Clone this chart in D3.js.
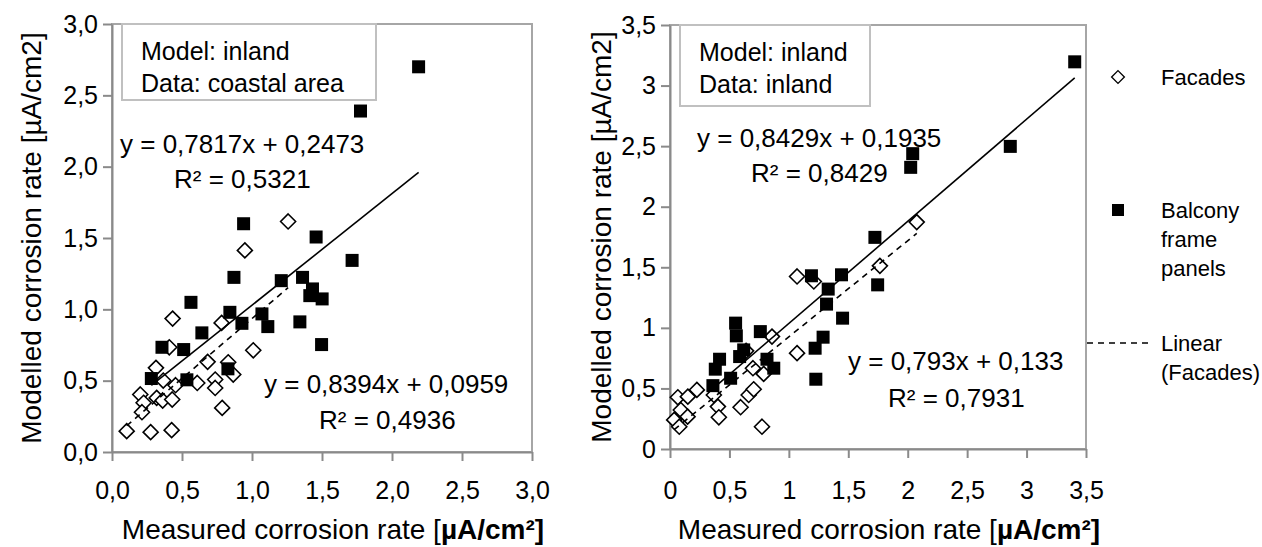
<!DOCTYPE html>
<html lang="en">
<head>
<meta charset="UTF-8">
<title>Modelled vs measured corrosion rate</title>
<script src="https://d3js.org/d3.v7.min.js"></script>
<style>
  body { margin: 0; background: #fff; }
  svg text { font-family: "Liberation Sans", Arial, sans-serif; fill: #000; }
</style>
</head>
<body>
<div id="chart"></div>
<script>
// ---- data ----
// left: model inland, data coastal area
const leftBalconyX = [2.19, 1.775, 0.94, 1.458, 1.715, 0.871, 1.209, 1.361, 1.432, 1.413, 1.501, 0.564,
  0.842, 1.071, 0.928, 1.113, 1.342, 0.642, 1.497, 0.357, 0.512, 0.828, 0.281, 0.535];
const leftBalconyY = [2.70, 2.39, 1.60, 1.507, 1.343, 1.224, 1.201, 1.224, 1.143, 1.096, 1.073, 1.049,
  0.979, 0.968, 0.902, 0.879, 0.912, 0.835, 0.753, 0.734, 0.718, 0.583, 0.515, 0.506];
const leftFacadesX = [1.258, 0.949, 0.433, 0.783, 0.409, 1.009, 0.683, 0.830, 0.314, 0.866, 0.366, 0.454,
  0.609, 0.737, 0.737, 0.202, 0.319, 0.362, 0.430, 0.226, 0.214, 0.787, 0.105, 0.276, 0.426];
const leftFacadesY = [1.616, 1.413, 0.935, 0.905, 0.734, 0.713, 0.632, 0.629, 0.590, 0.543, 0.501, 0.468,
  0.484, 0.508, 0.449, 0.403, 0.379, 0.361, 0.368, 0.345, 0.279, 0.309, 0.146, 0.139, 0.153];
const leftBalconyFit = [0.7817, 0.2473];
const leftFacadesFit = [0.8394, 0.0959];
const leftEquations = ["y = 0,7817x + 0,2473", "R² = 0,5321", "y = 0,8394x + 0,0959", "R² = 0,4936"];
const leftBox = ["Model: inland", "Data: coastal area"];
const leftTicks = [0, 0.5, 1, 1.5, 2, 2.5, 3];
const leftTickLabels = ["0,0", "0,5", "1,0", "1,5", "2,0", "2,5", "3,0"];

// right: model inland, data inland
const rightBalconyX = [3.405, 2.863, 2.042, 2.025, 1.724, 1.19, 1.443, 1.331, 1.747, 1.317, 1.452, 0.552,
  0.558, 0.76, 1.288, 1.221, 0.62, 0.586, 0.417, 0.816, 0.873, 0.381, 0.51, 0.361, 1.227];
const rightBalconyY = [3.196, 2.498, 2.438, 2.325, 1.747, 1.43, 1.438, 1.32, 1.355, 1.196, 1.08, 1.039,
  0.934, 0.969, 0.923, 0.832, 0.818, 0.763, 0.741, 0.741, 0.667, 0.659, 0.584, 0.523, 0.576];
const rightFacadesX = [2.076, 1.766, 1.069, 1.21, 0.858, 1.069, 0.64, 0.698, 0.788, 0.662, 0.704, 0.594,
  0.403, 0.411, 0.369, 0.774, 0.226, 0.066, 0.15, 0.091, 0.148, 0.035, 0.078];
const rightFacadesY = [1.873, 1.512, 1.424, 1.383, 0.928, 0.791, 0.81, 0.667, 0.62, 0.446, 0.493, 0.345,
  0.35, 0.262, 0.446, 0.184, 0.488, 0.427, 0.432, 0.322, 0.267, 0.24, 0.184];
const rightBalconyFit = [0.8429, 0.1935];
const rightFacadesFit = [0.793, 0.133];
const rightEquations = ["y = 0,8429x + 0,1935", "R² = 0,8429", "y = 0,793x + 0,133", "R² = 0,7931"];
const rightBox = ["Model: inland", "Data: inland"];
const rightTicks = [0, 0.5, 1, 1.5, 2, 2.5, 3, 3.5];
const rightTickLabels = ["0", "0,5", "1", "1,5", "2", "2,5", "3", "3,5"];

const legendLabels = [["Facades"], ["Balcony", "frame", "panels"], ["Linear", "(Facades)"]];

const W = 1262, H = 547;
const svg = d3.select("#chart").append("svg").attr("width", W).attr("height", H);

const axisColor = "#8a8a8a";
const diamond = "M0,-7.5L7.5,0L0,7.5L-7.5,0Z";
const tickFont = 25;

function zip(xs, ys) { return xs.map((x, i) => [x, ys[i]]); }

function panel(cfg) {
  const x = d3.scaleLinear().domain([0, cfg.max]).range([cfg.left, cfg.right]);
  const y = d3.scaleLinear().domain([0, cfg.max]).range([cfg.bottom, cfg.top]);
  const g = svg.append("g");

  // plot border
  g.append("rect")
    .attr("x", cfg.left).attr("y", cfg.top)
    .attr("width", cfg.right - cfg.left).attr("height", cfg.bottom - cfg.top)
    .attr("fill", "none").attr("stroke", "#a6a6a6").attr("stroke-width", 2);

  // axes (x labels sit on a common baseline near y = 499)
  const xPad = 499 - cfg.bottom - 9 - 0.71 * tickFont;
  const ax = g.append("g").attr("transform", `translate(0,${cfg.bottom})`)
    .call(d3.axisBottom(x).tickValues(cfg.ticks).tickSize(9).tickSizeOuter(0).tickPadding(xPad)
      .tickFormat((d, i) => cfg.tickLabels[i]));
  const ay = g.append("g").attr("transform", `translate(${cfg.left},0)`)
    .call(d3.axisLeft(y).tickValues(cfg.ticks).tickSize(9).tickSizeOuter(0).tickPadding(5)
      .tickFormat((d, i) => cfg.tickLabels[i]));
  [ax, ay].forEach(a => {
    a.select(".domain").attr("stroke", axisColor).attr("stroke-width", 2);
    a.selectAll(".tick line").attr("stroke", axisColor).attr("stroke-width", 2);
    a.selectAll(".tick text").style("font-size", tickFont + "px").attr("fill", "#000");
  });

  // text box
  g.append("rect")
    .attr("x", cfg.box[0]).attr("y", cfg.top)
    .attr("width", cfg.box[1] - cfg.box[0]).attr("height", cfg.box[2] - cfg.top)
    .attr("fill", "#fff").attr("stroke", "#c0c0c0").attr("stroke-width", 2);
  cfg.boxText.forEach((t, i) => {
    g.append("text").attr("x", cfg.box[0] + 19).attr("y", cfg.top + 36 + i * 32)
      .style("font-size", "25px").text(t);
  });

  // markers: facades first, then balcony
  g.selectAll("path.fac").data(zip(cfg.facX, cfg.facY)).enter().append("path")
    .attr("class", "fac").attr("d", diamond)
    .attr("transform", d => `translate(${x(d[0])},${y(d[1])})`)
    .attr("fill", "#fff").attr("stroke", "#000").attr("stroke-width", 1.6);
  g.selectAll("rect.bal").data(zip(cfg.balX, cfg.balY)).enter().append("rect")
    .attr("class", "bal")
    .attr("x", d => x(d[0]) - 6.5).attr("y", d => y(d[1]) - 6.5)
    .attr("width", 13).attr("height", 13).attr("fill", "#000");

  // trend lines
  const fitLine = (xs, fit) => {
    const ext = d3.extent(xs);
    return ext.map(v => [x(v), y(fit[0] * v + fit[1])]);
  };
  g.append("path").attr("d", d3.line()(fitLine(cfg.balX, cfg.balFit)))
    .attr("stroke", "#000").attr("stroke-width", 1.6).attr("fill", "none");
  g.append("path").attr("d", d3.line()(fitLine(cfg.facX, cfg.facFit)))
    .attr("stroke", "#000").attr("stroke-width", 1.6).attr("fill", "none")
    .attr("stroke-dasharray", "6,5");

  // equations
  cfg.eqPos.forEach((p, i) => {
    g.append("text").attr("x", p[0]).attr("y", p[1]).style("font-size", "26px").text(cfg.equations[i]);
  });

  // axis titles
  const xt = g.append("text").attr("x", (cfg.left + cfg.right) / 2 + 11).attr("y", 539)
    .attr("text-anchor", "middle").style("font-size", "28px");
  xt.append("tspan").text("Measured corrosion rate [");
  xt.append("tspan").attr("font-weight", "bold").text("µA/cm²]");

  g.append("text")
    .attr("transform", `translate(${cfg.yTitleX},${(cfg.top + cfg.bottom) / 2}) rotate(-90)`)
    .attr("text-anchor", "middle").style("font-size", "28px")
    .text("Modelled corrosion rate [µA/cm2]");
}

panel({
  left: 112, right: 532, top: 24, bottom: 452, max: 3,
  ticks: leftTicks, tickLabels: leftTickLabels,
  box: [122, 376, 100], boxText: leftBox,
  balX: leftBalconyX, balY: leftBalconyY, facX: leftFacadesX, facY: leftFacadesY,
  balFit: leftBalconyFit, facFit: leftFacadesFit,
  equations: leftEquations,
  eqPos: [[120, 153], [174, 188], [264, 393], [319, 429]],
  yTitleX: 41
});

panel({
  left: 670, right: 1086, top: 25, bottom: 449, max: 3.5,
  ticks: rightTicks, tickLabels: rightTickLabels,
  box: [680, 870, 106], boxText: rightBox,
  balX: rightBalconyX, balY: rightBalconyY, facX: rightFacadesX, facY: rightFacadesY,
  balFit: rightBalconyFit, facFit: rightFacadesFit,
  equations: rightEquations,
  eqPos: [[697, 147], [751, 182], [848, 370], [888, 407]],
  yTitleX: 611
});

// legend (right panel)
const leg = svg.append("g");
const legY = [77, 210, 343];
leg.append("path").attr("d", diamond).attr("transform", `translate(1118,${legY[0]}) scale(0.85)`)
  .attr("fill", "#fff").attr("stroke", "#000").attr("stroke-width", 1.6);
leg.append("rect").attr("x", 1112).attr("y", legY[1] - 6).attr("width", 12).attr("height", 12).attr("fill", "#000");
leg.append("line").attr("x1", 1087).attr("x2", 1148).attr("y1", legY[2]).attr("y2", legY[2])
  .attr("stroke", "#000").attr("stroke-width", 1.6).attr("stroke-dasharray", "6,5");
legendLabels.forEach((lines, i) => {
  lines.forEach((t, j) => {
    leg.append("text").attr("x", 1161).attr("y", legY[i] + 8 + j * 29)
      .style("font-size", "22px").text(t);
  });
});
</script>
</body>
</html>
